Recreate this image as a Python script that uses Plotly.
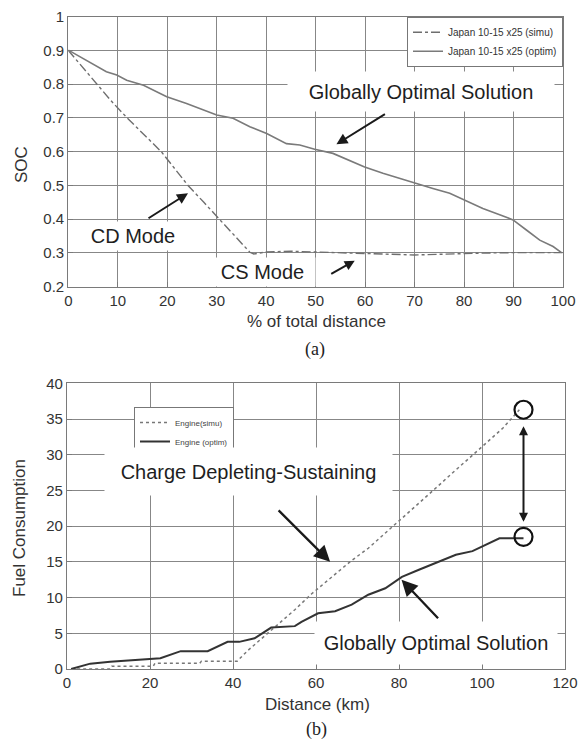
import plotly.graph_objects as go

# ---------------- (a) SOC vs % of total distance ----------------
soc_x_simu = [0, 2.5, 5.7, 8.7, 11.9, 15.3, 18.8, 21.5, 24.2, 27.4, 30.6, 33.7, 36.7, 37.5,
              38.5, 40, 45, 50, 55, 60, 65, 70, 75, 80, 85, 90, 95, 100]
soc_simu = [0.900, 0.857, 0.800, 0.750, 0.700, 0.650, 0.600, 0.550, 0.500, 0.450, 0.400, 0.350,
            0.302, 0.297, 0.299, 0.303, 0.305, 0.303, 0.300, 0.297, 0.295, 0.294, 0.296, 0.299,
            0.300, 0.301, 0.300, 0.301]

soc_x_optim = [0, 3.0, 7.7, 9.8, 11.8, 15.2, 19.9, 23.9, 30.0, 33.3, 36.7, 40.1, 44.1, 46.8,
               49.8, 53.5, 56.9, 59.9, 63.6, 67.0, 70.0, 73.7, 77.1, 80.1, 83.8, 87.2, 89.9,
               92.6, 95.3, 98.0, 99.7]
soc_optim = [0.901, 0.877, 0.837, 0.827, 0.812, 0.797, 0.763, 0.743, 0.709, 0.699, 0.674, 0.654,
             0.624, 0.620, 0.607, 0.595, 0.575, 0.555, 0.536, 0.521, 0.506, 0.491, 0.477, 0.457,
             0.432, 0.413, 0.398, 0.368, 0.338, 0.319, 0.301]

soc_ticks = [0.2, 0.3, 0.4, 0.5, 0.6, 0.7, 0.8, 0.9, 1.0]
soc_ticktext = ["0.2", "0.3", "0.4", "0.5", "0.6", "0.7", "0.8", "0.9", "1"]

# ---------------- (b) Fuel consumption vs distance ----------------
dist_simu = [1, 10.4, 10.8, 20.8, 21.2, 32.0, 32.4, 41.0, 43.6, 46.8, 50.0, 54.9, 58.9, 64.6,
             68.6, 72.6, 76.7, 80.7, 84.8, 88.8, 92.8, 96.9, 101.0, 105.0, 109.0]
fuel_simu = [0, 0, 0.4, 0.4, 0.8, 0.8, 1.1, 1.1, 2.6, 4.2, 5.8, 8.3, 10.5, 13.3,
             15.2, 16.9, 19.0, 21.1, 23.2, 25.3, 27.4, 29.5, 31.6, 33.7, 36.3]

dist_optim = [1, 5.6, 10.4, 15.0, 20.9, 22.5, 27.4, 33.9, 38.7, 41.5, 45.2, 49.2, 54.9, 56.5,
              60.5, 64.6, 68.6, 72.6, 76.7, 80.7, 84.8, 88.8, 93.7, 97.7, 100.9, 104.2, 110.0]
fuel_optim = [0, 0.75, 1.0, 1.2, 1.5, 1.5, 2.5, 2.5, 3.8, 3.8, 4.3, 5.8, 6.0, 6.6,
              7.8, 8.1, 9.0, 10.4, 11.3, 12.9, 13.9, 14.8, 16.0, 16.5, 17.4, 18.3, 18.3]

end_marks_x = [110, 110]
end_marks_y = [36.3, 18.5]

W, H = 578, 743
FONT = "Liberation Sans, Arial, sans-serif"
GRID = "#878787"
TXT = "#1e1e1e"

fig = go.Figure()

fig.add_trace(go.Scatter(x=soc_x_simu, y=soc_simu, mode="lines", name="Japan 10-15 x25 (simu)",
                         line=dict(color="#6e6e6e", width=1.4, dash="dashdot"),
                         xaxis="x", yaxis="y", legend="legend"))
fig.add_trace(go.Scatter(x=soc_x_optim, y=soc_optim, mode="lines", name="Japan 10-15 x25 (optim)",
                         line=dict(color="#7a7a7a", width=1.6),
                         xaxis="x", yaxis="y", legend="legend"))
fig.add_trace(go.Scatter(x=dist_simu, y=fuel_simu, mode="lines", name="Engine(simu)",
                         line=dict(color="#777777", width=1.5, dash="dot"),
                         xaxis="x2", yaxis="y2", legend="legend2"))
fig.add_trace(go.Scatter(x=dist_optim, y=fuel_optim, mode="lines", name="Engine (optim)",
                         line=dict(color="#333333", width=2),
                         xaxis="x2", yaxis="y2", legend="legend2"))
fig.add_trace(go.Scatter(x=end_marks_x, y=end_marks_y, mode="markers", showlegend=False,
                         marker=dict(symbol="circle-open", size=18, color="#111111",
                                     line=dict(width=2.2, color="#111111")),
                         xaxis="x2", yaxis="y2", hoverinfo="skip"))

axis_common = dict(showgrid=True, gridcolor=GRID, gridwidth=1, showline=True, linecolor="#7a7a7a",
                   linewidth=1.2, mirror=True, ticks="inside", ticklen=5, tickcolor="#7a7a7a",
                   zeroline=False, tickfont=dict(family=FONT, size=15, color="#333333"))

top_x = [68.3 / W, 563 / W]
top_y = [1 - 286.7 / H, 1 - 16.7 / H]
bot_x = [67 / W, 565 / W]
bot_y = [1 - 669 / H, 1 - 383.3 / H]

fig.update_layout(
    template="none",
    width=W, height=H, autosize=False,
    margin=dict(l=0, r=0, t=0, b=0, pad=0),
    paper_bgcolor="white", plot_bgcolor="white",
    font=dict(family=FONT, color=TXT),
    xaxis=dict(domain=top_x, range=[0, 100], tickmode="linear", tick0=0, dtick=10, anchor="y", **axis_common),
    yaxis=dict(domain=top_y, range=[0.2, 1.0], tickmode="array", tickvals=soc_ticks, ticktext=soc_ticktext,
               anchor="x", **axis_common),
    xaxis2=dict(domain=bot_x, range=[0, 120], tickmode="linear", tick0=0, dtick=20, anchor="y2", **axis_common),
    yaxis2=dict(domain=bot_y, range=[0, 40], tickmode="linear", tick0=0, dtick=5, anchor="x2", **axis_common),
    legend=dict(x=top_x[1], y=top_y[1], xanchor="right", yanchor="top", bgcolor="white",
                bordercolor="#777777", borderwidth=1, font=dict(family=FONT, size=10, color="#333"),
                tracegroupgap=0, itemwidth=30),
    legend2=dict(x=134 / W, y=1 - 407 / H, xanchor="left", yanchor="top", bgcolor="white",
                 bordercolor="#777777", borderwidth=1, font=dict(family=FONT, size=8, color="#444"),
                 tracegroupgap=0, itemwidth=30),
    showlegend=True,
)

ann = []
def cap(text, cx, cy, size=17, angle=0, family=FONT, color="#333"):
    return dict(text=text, x=cx / W, y=1 - cy / H, xref="paper", yref="paper", textangle=angle,
                xanchor="center", yanchor="middle", showarrow=False,
                font=dict(size=size, color=color, family=family))

SERIF = "Liberation Serif, Times New Roman, serif"
ann.append(cap("SOC", 21, 165, angle=-90))
ann.append(cap("% of total distance", 316, 322))
ann.append(cap("(a)", 315, 349, size=18, family=SERIF, color="#222"))
ann.append(cap("Fuel Consumption", 19, 528, angle=-90))
ann.append(cap("Distance (km)", 317, 704))
ann.append(cap("(b)", 316, 729, size=18, family=SERIF, color="#222"))

def label(text, cx, cy, w, h):
    return dict(text=text, x=cx / W, y=1 - cy / H, xref="paper", yref="paper", showarrow=False,
                width=w, height=h, bgcolor="white", borderpad=0, xanchor="center", yanchor="middle",
                font=dict(size=20, color=TXT))

ann.append(label("Globally Optimal Solution", 421, 92, 266, 39))
ann.append(label("CD Mode", 133, 236, 100, 28))
ann.append(label("CS Mode", 262, 271.5, 105, 28))
ann.append(label("Charge Depleting-Sustaining", 248, 471, 287, 47))
ann.append(label("Globally Optimal Solution", 436, 643, 242, 42))

def arrow(xr, yr, x, y, ax, ay, width=2, size=1.1, side="end"):
    return dict(text="", x=x, y=y, xref=xr, yref=yr, ax=ax, ay=ay, showarrow=True,
                arrowhead=2, arrowsize=size, arrowwidth=width, arrowcolor="#1a1a1a",
                arrowside=side, standoff=0, startstandoff=0)

ann.append(arrow("x", "y", 54.2, 0.622, 50, -31, 2, 1.1))
ann.append(arrow("x", "y", 24.2, 0.477, -41, 26, 2, 1.1))
ann.append(arrow("x", "y", 57.9, 0.277, -25, 14, 2, 1.0))
ann.append(arrow("x2", "y2", 63.4, 15.0, -53, -53, 2.3, 1.4))
ann.append(arrow("x2", "y2", 80.6, 12.5, 38, 40, 2.3, 1.4))
ann.append(arrow("x2", "y2", 110, 20.6, 0, -97, 2, 0.9, "end+start"))

fig.update_layout(annotations=ann)

fig.write_html("out.html", config={"displayModeBar": False},
               post_script="document.body.style.margin='0px';")
